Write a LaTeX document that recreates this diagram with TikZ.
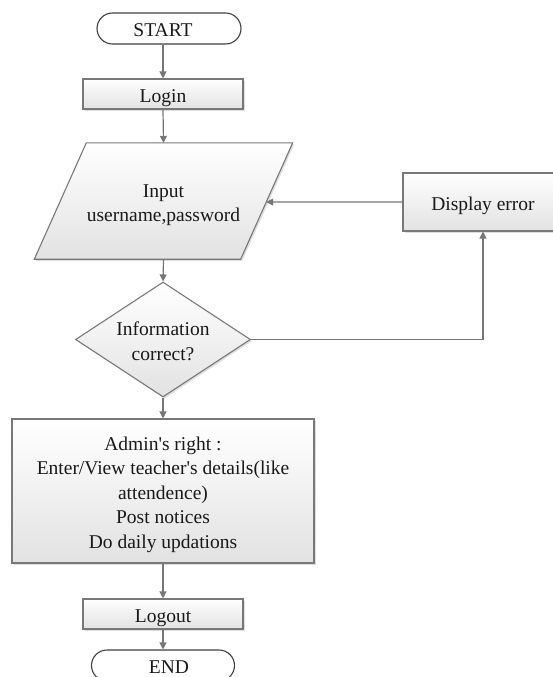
\documentclass[tikz,border=0pt]{standalone}
\usepackage{fontspec}
\setmainfont{Liberation Serif}
\usetikzlibrary{shapes.geometric,shapes.misc,arrows.meta,backgrounds,shadows,calc}
\definecolor{borderc}{RGB}{120,120,120}
\definecolor{arrowc}{RGB}{118,118,118}
\definecolor{fillbot}{RGB}{226,226,226}
\definecolor{shadowc}{RGB}{200,200,200}
\newcommand{\tx}[1]{\raisebox{-3.5pt}[\height][\depth]{\begin{tabular}{@{}c@{}}#1\end{tabular}}}
\begin{document}
\begin{tikzpicture}[x=1pt,y=-1pt,
  every node/.style={font=\fontsize{19.5}{24.5}\selectfont, inner sep=0pt, text=black!90},
  shapestyle/.style={draw=borderc, line width=1.1pt, top color=white, bottom color=fillbot,
     drop shadow={shadow xshift=1.6pt, shadow yshift=-1.6pt, fill=shadowc, opacity=0.6}},
  proc/.style={rectangle, shapestyle},
  decision/.style={diamond, shapestyle, aspect=1.52},
  terminal/.style={rounded rectangle, draw=black!75, line width=1.1pt, fill=white},
  arr/.style={draw=arrowc, line width=1.2pt, -{Triangle[length=7pt,width=7pt]}}]
\useasboundingbox (0,0) rectangle (553,677);
\clip (0,0) rectangle (553,677);

\node[terminal, minimum width=144, minimum height=31] (start) at (169,28.5) {\tx{START\hspace*{12pt}}};
\node[proc, minimum width=160, minimum height=30] (login) at (163,94) {\tx{Login}};
\node[minimum width=258, minimum height=116] (inp) at (163.5,201) {\tx{Input\\username,password}};
\begin{scope}[on background layer]
  \path[shapestyle] ($(inp.north west)+(52,0)$) -- (inp.north east)
     -- ($(inp.south east)+(-52,0)$) -- (inp.south west) -- cycle;
\end{scope}
\coordinate (inpR) at ($(inp.north east)!0.509!($(inp.south east)+(-52,0)$)$);
\node[decision, minimum width=175, minimum height=115] (dec) at (163,339.5) {\tx{Information\\correct?}};
\node[proc, minimum width=160, minimum height=58] (err) at (483,202) {\tx{Display error}};
\node[proc, minimum width=302, minimum height=144] (admin) at (163,491)
  {\tx{Admin\textquotesingle s right :\\Enter/View teacher\textquotesingle s details(like\\attendence)\\Post notices\\Do daily updations}};
\node[proc, minimum width=160, minimum height=30] (logout) at (163,614) {\tx{Logout}};
\node[terminal, minimum width=143, minimum height=31] (end) at (163,665.5) {\tx{\hspace*{12pt}END}};

\draw[arr] (start.south -| login.north) -- (login.north);
\draw[arr] (login.south) -- (inp.north);
\draw[arr] (inp.south) -- (dec.north);
\draw[arr] (dec.east) -| (err.south);
\draw[arr] (err.west) -- (inpR);
\draw[arr] (dec.south) -- (admin.north);
\draw[arr] (admin.south) -- (logout.north);
\draw[arr] (logout.south) -- (end.north);
\end{tikzpicture}
\end{document}
